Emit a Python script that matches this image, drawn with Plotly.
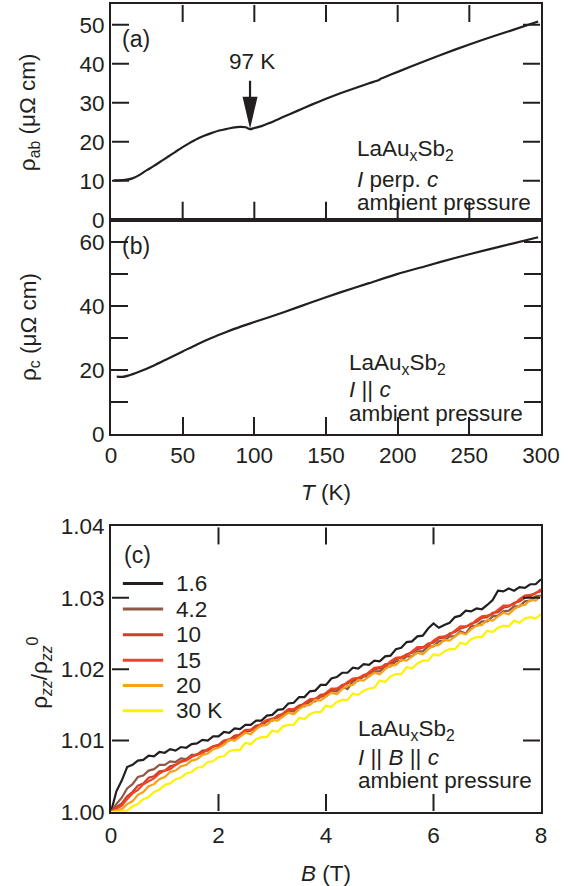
import plotly.graph_objects as go

# ---------------- data ----------------
T_ab = [2, 5, 10, 15, 20, 25, 30, 35, 40, 45, 50, 55, 60, 65, 70, 75, 80, 85, 90, 94, 97,
        100, 105, 110, 120, 130, 140, 150, 160, 170, 180, 187, 188, 190, 200, 220, 240, 260, 280, 298]
rho_ab = [10.1, 10.1, 10.2, 10.6, 11.5, 12.7, 13.8, 15.0, 16.2, 17.4, 18.6, 19.7, 20.7, 21.5, 22.2, 22.8,
          23.2, 23.6, 23.8, 23.7, 23.2, 23.5, 24.0, 24.7, 26.3, 27.9, 29.5, 31.0, 32.4, 33.7, 35.0, 35.8,
          36.1, 36.4, 37.9, 40.8, 43.6, 46.2, 48.6, 50.8]

T_c = [4, 8, 12, 20, 30, 40, 50, 60, 70, 80, 90, 100, 120, 140, 160, 180, 200, 220, 240, 260, 280, 298]
rho_c = [17.9, 17.8, 18.2, 19.5, 21.4, 23.6, 25.8, 28.0, 30.0, 31.8, 33.5, 35.0, 38.0, 41.2, 44.3, 47.2,
         50.1, 52.6, 55.1, 57.4, 59.6, 61.6]

B_field = [round(0.1 * i, 1) for i in range(81)]

mr_1p6 = [1.0000, 1.0029, 1.0044, 1.0063, 1.0066, 1.0072, 1.0073, 1.0079, 1.0078, 1.0084,
          1.0083, 1.0088, 1.0086, 1.0091, 1.0090, 1.0095, 1.0096, 1.0101, 1.0100, 1.0106,
          1.0106, 1.0112, 1.0111, 1.0117, 1.0116, 1.0122, 1.0122, 1.0128, 1.0128, 1.0135,
          1.0136, 1.0143, 1.0144, 1.0152, 1.0153, 1.0161, 1.0161, 1.0169, 1.0170, 1.0178,
          1.0178, 1.0187, 1.0189, 1.0195, 1.0195, 1.0202, 1.0201, 1.0207, 1.0206, 1.0212,
          1.0211, 1.0218, 1.0219, 1.0228, 1.0230, 1.0238, 1.0239, 1.0246, 1.0247, 1.0257,
          1.0264, 1.0258, 1.0262, 1.0265, 1.0273, 1.0275, 1.0282, 1.0281, 1.0285, 1.0284,
          1.0290, 1.0297, 1.0310, 1.0309, 1.0313, 1.0310, 1.0315, 1.0314, 1.0319, 1.0319,
          1.0326]
mr_4p2 = [1.0000, 1.0011, 1.0020, 1.0033, 1.0039, 1.0049, 1.0051, 1.0058, 1.0060, 1.0066,
          1.0066, 1.0071, 1.0070, 1.0075, 1.0074, 1.0080, 1.0080, 1.0086, 1.0086, 1.0092,
          1.0093, 1.0098, 1.0100, 1.0106, 1.0107, 1.0113, 1.0114, 1.0120, 1.0121, 1.0127,
          1.0128, 1.0134, 1.0134, 1.0141, 1.0141, 1.0148, 1.0148, 1.0155, 1.0155, 1.0162,
          1.0162, 1.0169, 1.0169, 1.0176, 1.0172, 1.0183, 1.0184, 1.0190, 1.0190, 1.0197,
          1.0197, 1.0204, 1.0204, 1.0211, 1.0212, 1.0218, 1.0218, 1.0225, 1.0225, 1.0232,
          1.0232, 1.0239, 1.0240, 1.0246, 1.0246, 1.0253, 1.0250, 1.0260, 1.0261, 1.0267,
          1.0267, 1.0274, 1.0275, 1.0281, 1.0282, 1.0288, 1.0288, 1.0295, 1.0296, 1.0302,
          1.0303]
mr_10 = [1.0000, 1.0007, 1.0012, 1.0022, 1.0028, 1.0037, 1.0040, 1.0048, 1.0050, 1.0057,
         1.0058, 1.0064, 1.0066, 1.0071, 1.0073, 1.0078, 1.0080, 1.0085, 1.0087, 1.0092,
         1.0094, 1.0100, 1.0101, 1.0107, 1.0108, 1.0114, 1.0115, 1.0121, 1.0122, 1.0128,
         1.0129, 1.0135, 1.0137, 1.0142, 1.0144, 1.0149, 1.0151, 1.0157, 1.0158, 1.0164,
         1.0165, 1.0171, 1.0172, 1.0178, 1.0180, 1.0185, 1.0187, 1.0192, 1.0194, 1.0200,
         1.0201, 1.0207, 1.0208, 1.0214, 1.0216, 1.0221, 1.0223, 1.0228, 1.0230, 1.0236,
         1.0237, 1.0243, 1.0244, 1.0250, 1.0252, 1.0257, 1.0259, 1.0264, 1.0266, 1.0272,
         1.0273, 1.0279, 1.0280, 1.0286, 1.0288, 1.0293, 1.0295, 1.0300, 1.0302, 1.0307,
         1.0309]
mr_15 = [1.0000, 1.0005, 1.0009, 1.0018, 1.0026, 1.0031, 1.0039, 1.0043, 1.0047, 1.0054,
         1.0058, 1.0060, 1.0066, 1.0070, 1.0072, 1.0077, 1.0081, 1.0082, 1.0088, 1.0092,
         1.0093, 1.0099, 1.0102, 1.0103, 1.0109, 1.0115, 1.0115, 1.0117, 1.0124, 1.0129,
         1.0131, 1.0132, 1.0138, 1.0144, 1.0144, 1.0146, 1.0153, 1.0158, 1.0159, 1.0161,
         1.0167, 1.0173, 1.0173, 1.0176, 1.0182, 1.0187, 1.0188, 1.0190, 1.0196, 1.0202,
         1.0203, 1.0204, 1.0211, 1.0216, 1.0217, 1.0219, 1.0225, 1.0231, 1.0231, 1.0233,
         1.0240, 1.0245, 1.0246, 1.0248, 1.0254, 1.0260, 1.0260, 1.0262, 1.0269, 1.0274,
         1.0275, 1.0277, 1.0283, 1.0289, 1.0289, 1.0291, 1.0298, 1.0303, 1.0304, 1.0306,
         1.0312]
mr_20 = [1.0000, 1.0002, 1.0004, 1.0011, 1.0015, 1.0024, 1.0028, 1.0036, 1.0039, 1.0046,
         1.0049, 1.0056, 1.0058, 1.0064, 1.0066, 1.0072, 1.0074, 1.0080, 1.0082, 1.0088,
         1.0090, 1.0094, 1.0101, 1.0100, 1.0106, 1.0111, 1.0109, 1.0116, 1.0121, 1.0122,
         1.0129, 1.0128, 1.0134, 1.0139, 1.0137, 1.0144, 1.0149, 1.0150, 1.0157, 1.0156,
         1.0162, 1.0167, 1.0165, 1.0172, 1.0177, 1.0178, 1.0185, 1.0184, 1.0190, 1.0195,
         1.0193, 1.0200, 1.0205, 1.0206, 1.0213, 1.0212, 1.0218, 1.0223, 1.0221, 1.0228,
         1.0233, 1.0234, 1.0241, 1.0240, 1.0246, 1.0251, 1.0249, 1.0256, 1.0261, 1.0262,
         1.0269, 1.0268, 1.0274, 1.0279, 1.0277, 1.0284, 1.0289, 1.0290, 1.0297, 1.0296,
         1.0302]
mr_30 = [1.0000, 1.0000, 1.0001, 1.0002, 1.0008, 1.0011, 1.0018, 1.0021, 1.0028, 1.0031,
         1.0038, 1.0040, 1.0046, 1.0048, 1.0054, 1.0056, 1.0062, 1.0063, 1.0070, 1.0071,
         1.0077, 1.0078, 1.0085, 1.0087, 1.0087, 1.0097, 1.0095, 1.0102, 1.0105, 1.0105,
         1.0114, 1.0112, 1.0120, 1.0122, 1.0122, 1.0132, 1.0130, 1.0137, 1.0140, 1.0140,
         1.0149, 1.0147, 1.0154, 1.0157, 1.0157, 1.0166, 1.0164, 1.0170, 1.0173, 1.0174,
         1.0184, 1.0182, 1.0190, 1.0193, 1.0193, 1.0203, 1.0201, 1.0208, 1.0212, 1.0212,
         1.0221, 1.0219, 1.0225, 1.0228, 1.0228, 1.0237, 1.0235, 1.0242, 1.0245, 1.0245,
         1.0254, 1.0252, 1.0258, 1.0261, 1.0260, 1.0268, 1.0265, 1.0271, 1.0273, 1.0271,
         1.0277]

mr_series = [mr_1p6, mr_4p2, mr_10, mr_15, mr_20, mr_30]
mr_labels = ["1.6", "4.2", "10", "15", "20", "30 K"]
mr_colors = ["#231f20", "#8c5a47", "#c9402b", "#ef4423", "#f7a11a", "#fff200"]

T_ticks = [0, 50, 100, 150, 200, 250, 300]
rho_ab_ticks = [0, 10, 20, 30, 40, 50]
rho_c_ticks = [0, 10, 20, 30, 40, 50, 60]
B_ticks = [0, 2, 4, 6, 8]
mr_ticks = [1.00, 1.01, 1.02, 1.03, 1.04]

# ---------------- figure ----------------
INK = "#231f20"
FONT = "Liberation Sans"
FS = 22.5
TICKLEN = 17
DOM_A = [0.73305, 1.0]
DOM_B = [0.46819, 0.73305]
DOM_C = [0.0, 0.35347]
RNG_A = [0, 55.3]
RNG_C = [1.0, 1.04]

fig = go.Figure()
fig.add_trace(go.Scatter(x=T_ab, y=rho_ab, mode="lines",
                         line=dict(color=INK, width=2.2, shape="spline", smoothing=0.6),
                         xaxis="x", yaxis="y", showlegend=False))
fig.add_trace(go.Scatter(x=T_c, y=rho_c, mode="lines",
                         line=dict(color=INK, width=2.2, shape="spline", smoothing=0.6),
                         xaxis="x2", yaxis="y2", showlegend=False))
for vals, lab, col in zip(mr_series, mr_labels, mr_colors):
    fig.add_trace(go.Scatter(x=B_field, y=vals, mode="lines", name=lab, line=dict(color=col, width=2.2),
                             xaxis="x3", yaxis="y3", showlegend=False))


def axis(**kw):
    d = dict(showline=True, linecolor=INK, linewidth=2, ticks="inside", ticklen=TICKLEN, tickwidth=2,
             tickcolor=INK, showgrid=False, zeroline=False, automargin=False, tickmode="array",
             mirror="ticks", tickfont=dict(family=FONT, size=FS, color=INK))
    d.update(kw)
    return d


fig.update_layout(
    template="none",
    width=579, height=886,
    margin=dict(l=111, r=38.3, t=4.3, b=73.7, pad=0),
    paper_bgcolor="white", plot_bgcolor="white",
    font=dict(family=FONT, size=FS, color=INK),
    showlegend=False,
    # panels (a) and (c): frame + labels from the axes, tick marks added below as shapes
    xaxis=axis(domain=[0, 1], range=[0, 300], anchor="y", tickvals=T_ticks, showticklabels=False,
               ticks="", mirror=True),
    yaxis=axis(domain=DOM_A, range=RNG_A, anchor="x", tickvals=rho_ab_ticks, ticks="", mirror=True),
    xaxis2=axis(domain=[0, 1], range=[0, 300], anchor="y2", mirror=True, ticklabelstandoff=0,
                tickvals=T_ticks,
                title=dict(text="<i>T</i> (K)", standoff=18, font=dict(size=FS))),
    yaxis2=axis(domain=DOM_B, range=[0, 67.1], anchor="x2",
                tickvals=rho_c_ticks, ticktext=["0", "", "20", "", "40", "", "60"]),
    xaxis3=axis(domain=[0, 1], range=[0, 8], anchor="y3", ticklabelstandoff=2,
                tickvals=B_ticks, ticks="", mirror=True,
                title=dict(text="<i>B</i> (T)", standoff=18, font=dict(size=FS))),
    yaxis3=axis(domain=DOM_C, range=RNG_C, anchor="x3", ticks="", mirror=True,
                tickvals=mr_ticks, ticktext=["1.00", "1.01", "1.02", "1.03", "1.04"]),
)

ann = []


def txt(x, y, s, xref, yref, xanchor="left", size=FS, angle=0):
    ann.append(dict(x=x, y=y, xref=xref, yref=yref, text=s, showarrow=False, xanchor=xanchor,
                    yanchor="middle", textangle=angle, font=dict(family=FONT, size=size, color=INK)))


# y-axis titles (rotated)
txt(-0.190, (DOM_A[0] + DOM_A[1]) / 2, "ρ<sub>ab</sub> (μΩ cm)", "paper", "paper", "center", FS, -90)
txt(-0.190, (DOM_B[0] + DOM_B[1]) / 2, "ρ<sub>c</sub> (μΩ cm)", "paper", "paper", "center", FS, -90)
txt(-0.168, 0.172, "ρ<sub><i>zz</i></sub>/ρ<sub><i>zz</i></sub><sup>0</sup>", "paper", "paper", "center", FS, -90)

# panel (a)
txt(17.5, 46.2, "(a)", "x", "y", "center", 23)
txt(98.4, 40.6, "97 K", "x", "y", "center")
txt(170.5, 17.9, "LaAu<sub>x</sub>Sb<sub>2</sub>", "x", "y")
txt(170.5, 10.3, "<i>I</i> perp. <i>c</i>", "x", "y")
txt(170.5, 4.4, "ambient pressure", "x", "y")
# panel (b)
txt(17.5, 58.9, "(b)", "x2", "y2", "center", 23)
txt(164.5, 21.9, "LaAu<sub>x</sub>Sb<sub>2</sub>", "x2", "y2")
txt(164.5, 13.8, "<i>I</i> || <i>c</i>", "x2", "y2")
txt(164.5, 6.4, "ambient pressure", "x2", "y2")
# panel (c)
txt(0.49, 1.0360, "(c)", "x3", "y3", "center", 23)
txt(4.56, 1.01155, "LaAu<sub>x</sub>Sb<sub>2</sub>", "x3", "y3")
txt(4.56, 1.00762, "<i>I</i> || <i>B</i> || <i>c</i>", "x3", "y3")
txt(4.56, 1.00438, "ambient pressure", "x3", "y3")


def paper_y(v, dom, rng):
    return dom[0] + (v - rng[0]) / (rng[1] - rng[0]) * (dom[1] - dom[0])


shapes = []
TICK_LINE = dict(color=INK, width=2)


# inside tick marks (both sides) for panels (a) and (c), taken from the tick lists
def x_ticks(xref, vals, dom):
    for v in vals:
        shapes.append(dict(type="line", xref=xref, yref="paper", ysizemode="pixel", yanchor=dom[0],
                           x0=v, x1=v, y0=1, y1=TICKLEN + 1, line=TICK_LINE))
        shapes.append(dict(type="line", xref=xref, yref="paper", ysizemode="pixel", yanchor=dom[1],
                           x0=v, x1=v, y0=-1, y1=-(TICKLEN + 1), line=TICK_LINE))


def y_ticks(yref, vals):
    for v in vals:
        shapes.append(dict(type="line", xref="paper", yref=yref, xsizemode="pixel", xanchor=0,
                           x0=1, x1=TICKLEN + 1, y0=v, y1=v, line=TICK_LINE))
        shapes.append(dict(type="line", xref="paper", yref=yref, xsizemode="pixel", xanchor=1,
                           x0=-1, x1=-(TICKLEN + 1), y0=v, y1=v, line=TICK_LINE))


x_ticks("x", T_ticks[1:-1], DOM_A)
y_ticks("y", rho_ab_ticks[1:])
x_ticks("x3", B_ticks[1:-1], DOM_C)
y_ticks("y3", mr_ticks[1:-1])

# legend for panel (c)
leg_y = [1.03199, 1.02843, 1.02483, 1.02126, 1.0177, 1.01419]
for lab, col, yy in zip(mr_labels, mr_colors, leg_y):
    py = paper_y(yy, DOM_C, RNG_C)
    shapes.append(dict(type="line", xref="paper", yref="paper", x0=0.22 / 8, x1=0.97 / 8, y0=py, y1=py,
                       line=dict(color=col, width=3)))
    txt(1.18, yy, lab, "x3", "y3")

# arrow marking the 97 K anomaly (tip on the curve)
shapes.append(dict(type="path", xref="paper", yref="paper", xsizemode="pixel", ysizemode="pixel",
                   xanchor=97 / 300, yanchor=paper_y(23.3, DOM_A, RNG_A),
                   path="M0,0 L-7.5,32 L-1.1,32 L-1.1,48 L1.1,48 L1.1,32 L7.5,32 Z",
                   fillcolor=INK, line=dict(width=0)))

fig.update_layout(annotations=ann, shapes=shapes)
fig.write_html("out.html")
